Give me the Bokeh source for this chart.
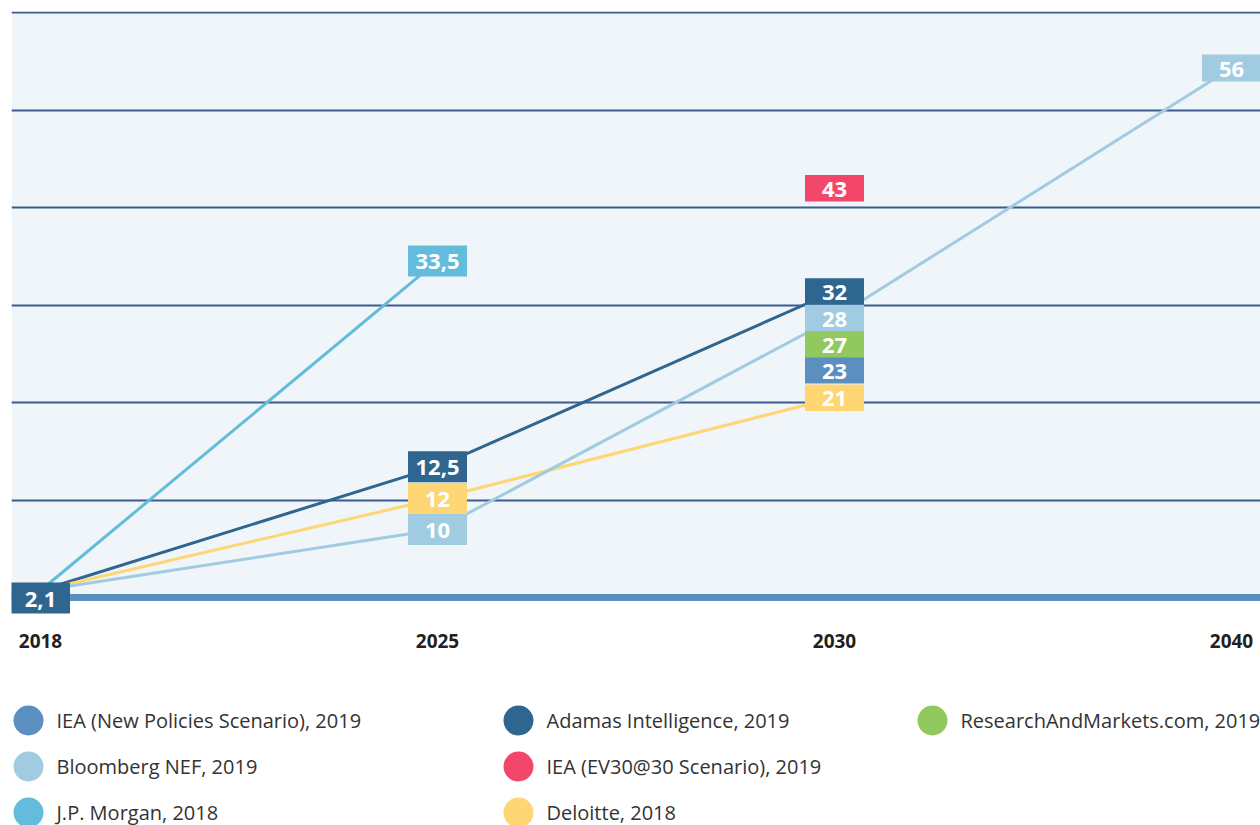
from bokeh.plotting import figure
from bokeh.layouts import column
from bokeh.models import Range1d, FixedTicker, Span, BoxAnnotation, ColumnDataSource
from bokeh.core.properties import value
from bokeh.embed import file_html
from bokeh.resources import INLINE

# ---------------- data ----------------
years = ["2018", "2025", "2030", "2040"]
series_names = [
    "IEA (New Policies Scenario), 2019",
    "Bloomberg NEF, 2019",
    "J.P. Morgan, 2018",
    "Adamas Intelligence, 2019",
    "IEA (EV30@30 Scenario), 2019",
    "Deloitte, 2018",
    "ResearchAndMarkets.com, 2019",
]
iea_nps = [None, None, 23, None]
bloomberg_nef = [2.1, 10, 28, 56]
jp_morgan = [2.1, 33.5, None, None]
adamas = [2.1, 12.5, 32, None]
iea_ev30 = [None, None, 43, None]
deloitte = [2.1, 12, 21, None]
research_markets = [None, None, 27, None]
series_values = [iea_nps, bloomberg_nef, jp_morgan, adamas, iea_ev30, deloitte, research_markets]
grid_values = [10, 20, 30, 40, 50, 60]

# ---------------- styles ----------------
colors = ["#5b8fbf", "#a1cbe0", "#63bcdc", "#2e6690", "#f2476b", "#fed674", "#92c95e"]
FONT = "Open Sans"
PX_PER_UNIT = 9.75           # vertical scale of the plot frame
start_label_owner = 3         # the shared 2018 value is labelled once (Adamas colour)
START_SHIFT_PX = 13.5         # display dodge of the shared 2018 point
# display dodge (screen px, + = down) so that stacked value boxes do not overlap;
# lines run into their (dodged) value boxes as in the original infographic
dodge_px = {
    (0, 2): -3,
    (1, 1): 29.5, (1, 2): -6.5, (1, 3): 16.5,
    (2, 1): -10,
    (3, 1): -9, (3, 2): 6,
    (4, 2): 10,
    (5, 1): 18, (5, 2): 5,
    (6, 2): 10,
}
start_label_extra_px = 7.5    # the 2018 box sits on the baseline
box_height_px = [31, 31, 26.5, 27]
box_font_px = ["22px", "22px", "22px", "22px"]
box_width_px = 59

W = 1260
H_MAIN = 665
H_LEG = 160
BORDER_L, BORDER_T, BORDER_B = 11, 11, 49
FRAME_TOP_PAD = 1      # px between frame top and the top gridline
FRAME_BOTTOM_PAD = 19  # px between baseline and frame bottom
X_SPACING = 397
X_LEFT_PAD = 29


def shift(s, i):
    return START_SHIFT_PX if i == 0 else dodge_px.get((s, i), 0)


frame_w = W - BORDER_L
x_start = -X_LEFT_PAD / X_SPACING
x_end = x_start + frame_w / X_SPACING

p = figure(
    width=W, height=H_MAIN, output_backend="svg", toolbar_location=None,
    x_range=Range1d(x_start, x_end),
    y_range=Range1d(-FRAME_BOTTOM_PAD / PX_PER_UNIT, max(grid_values) + FRAME_TOP_PAD / PX_PER_UNIT),
    y_axis_location=None,
    min_border_left=BORDER_L, min_border_right=0, min_border_top=BORDER_T,
    min_border_bottom=BORDER_B,
)
p.outline_line_color = None
p.background_fill_color = "white"
p.border_fill_color = "white"
p.xgrid.visible = False

p.add_layout(BoxAnnotation(bottom=0, top=max(grid_values), fill_color="#eff5f9",
                           fill_alpha=1, line_color=None, level="image"))
p.ygrid.ticker = FixedTicker(ticks=grid_values)
p.ygrid.grid_line_color = "#3b5a8f"
p.ygrid.grid_line_width = 2
p.add_layout(Span(location=0, dimension="width", line_color="#5b8fbf",
                  line_width=7, level="underlay"))

xi = list(range(len(years)))
p.xaxis.ticker = FixedTicker(ticks=xi)
p.xaxis.major_label_overrides = {i: y for i, y in zip(xi, years)}
p.xaxis.axis_line_color = None
p.xaxis.major_tick_line_color = None
p.xaxis.minor_tick_line_color = None
p.xaxis.major_label_standoff = 11
p.xaxis.major_label_text_font = FONT
p.xaxis.major_label_text_font_style = "bold"
p.xaxis.major_label_text_font_size = "19px"
p.xaxis.major_label_text_color = "#231f20"

# lines
line_order = [2, 3, 5, 1]
for s in line_order:
    vals = series_values[s]
    xs = [i for i, v in enumerate(vals) if v is not None]
    ys = [v - shift(s, i) / PX_PER_UNIT for i, v in enumerate(vals) if v is not None]
    if len(xs) > 1:
        p.line(xs, ys, line_color=colors[s], line_width=3)

# value boxes
lx, ly, lt, lc, lh, lf = [], [], [], [], [], []
for s, vals in enumerate(series_values):
    for i, v in enumerate(vals):
        if v is None:
            continue
        if i == 0 and s != start_label_owner:
            continue
        d = shift(s, i) + (start_label_extra_px if i == 0 else 0)
        lx.append(i)
        ly.append(v - d / PX_PER_UNIT)
        lt.append(f"{v:g}".replace(".", ","))
        lc.append(colors[s])
        lh.append(box_height_px[i])
        lf.append(box_font_px[i])
src = ColumnDataSource(dict(x=lx, y=ly, text=lt, color=lc, h=lh, fs=lf))
p.rect(x="x", y="y", width=box_width_px, height="h", width_units="screen",
       height_units="screen", fill_color="color", line_color=None, source=src)
p.text(x="x", y="y", text="text", text_color="white", text_font=value(FONT),
       text_font_style="bold", text_font_size="fs", text_align="center",
       text_baseline="middle", y_offset=1, source=src)

# legend (separate strip; its frame is aligned with the main frame by the column)
leg = figure(width=W, height=H_LEG, output_backend="svg", toolbar_location=None,
             x_range=Range1d(BORDER_L, W), y_range=Range1d(H_LEG, 0),
             x_axis_location=None, y_axis_location=None,
             min_border=0, min_border_left=BORDER_L, min_border_right=0,
             min_border_top=0, min_border_bottom=0)
leg.outline_line_color = None
leg.xgrid.visible = False
leg.ygrid.visible = False
col_x = [28, 518, 932]
row_y = [55, 101, 147]
cx, cy, tx, names, cc = [], [], [], [], []
for k, name in enumerate(series_names):
    c, r = divmod(k, 3)
    cx.append(col_x[c])
    cy.append(row_y[r])
    tx.append(col_x[c] + 28)
    names.append(name)
    cc.append(colors[k])
lsrc = ColumnDataSource(dict(cx=cx, cy=cy, tx=tx, name=names, color=cc))
leg.scatter(x="cx", y="cy", size=30, marker="circle", fill_color="color",
            line_color=None, source=lsrc)
leg.text(x="tx", y="cy", text="name", text_color="#333333", text_font=value(FONT),
         text_font_size="20px", text_baseline="middle", text_align="left", source=lsrc)

layout = column(p, leg, spacing=0)
open("out.html", "w").write(file_html(layout, INLINE))
